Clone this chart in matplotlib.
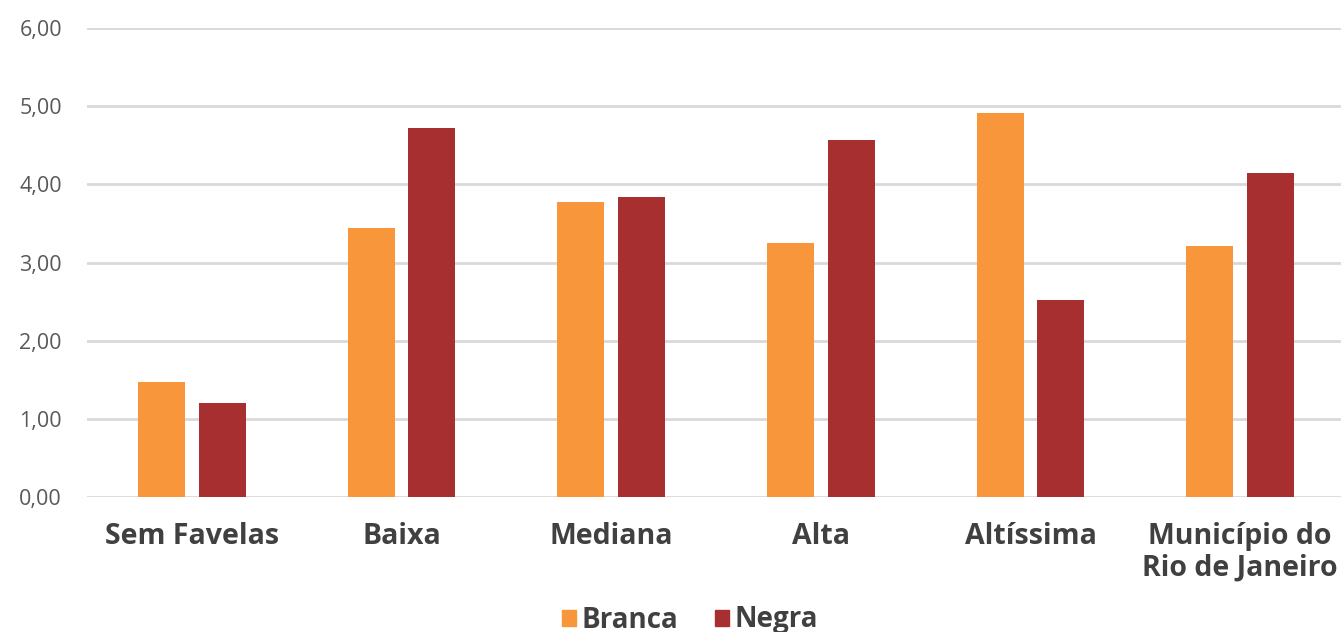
import matplotlib
matplotlib.use("Agg")
import matplotlib.pyplot as plt
import numpy as np
from matplotlib.patches import Patch

categories = ["Sem Favelas", "Baixa", "Mediana", "Alta", "Altíssima", "Município do\nRio de Janeiro"]
branca = [1.47, 3.44, 3.77, 3.25, 4.91, 3.21]
negra = [1.20, 4.72, 3.84, 4.57, 2.52, 4.14]
series_names = ["Branca", "Negra"]
y_ticks = [0, 1, 2, 3, 4, 5, 6]
y_tick_labels = ["0,00", "1,00", "2,00", "3,00", "4,00", "5,00", "6,00"]

color_branca = "#F7963A"
color_negra = "#A82F30"
grid_color = "#D9D9D9"
text_color = "#595959"
label_color = "#404040"

plt.rcParams["font.family"] = ["Open Sans", "DejaVu Sans"]

W, H = 1341, 632
fig = plt.figure(figsize=(W / 100, H / 100), dpi=100)
ax = fig.add_axes([87 / W, (632 - 497) / H, 1258 / W, (497 - 28) / H])

x = np.arange(len(categories))
bw = 0.224
off = 0.144
ax.bar(x - off, branca, width=bw, color=color_branca, zorder=3, label=series_names[0])
ax.bar(x + off, negra, width=bw, color=color_negra, zorder=3, label=series_names[1])

ax.set_xlim(-0.5, len(categories) - 0.5)
ax.set_ylim(0, 6)
ax.set_yticks(y_ticks)
ax.set_yticklabels(y_tick_labels, color=text_color, fontsize=15.5)
ax.set_xticks(x)
ax.set_xticklabels(categories, color=label_color, fontsize=20.5, fontweight="bold",
                   linespacing=1.1)
ax.tick_params(axis="y", length=0, pad=18)
ax.tick_params(axis="x", length=0, pad=18)
for t in ax.get_xticklabels():
    t.set_verticalalignment("top")

ax.grid(axis="y", color=grid_color, linewidth=2, zorder=0)
for s in ax.spines.values():
    s.set_visible(False)

handles = [Patch(color=color_branca), Patch(color=color_negra)]
fig.legend(handles, series_names, loc="center", bbox_to_anchor=(690 / W, 1 - 620 / H),
           ncol=2, frameon=False, handlelength=0.5, handleheight=0.5, handletextpad=0.2,
           columnspacing=1.3, prop={"size": 20, "weight": "bold"}, labelcolor=label_color)

fig.savefig("out.png", dpi=100, facecolor="white")
